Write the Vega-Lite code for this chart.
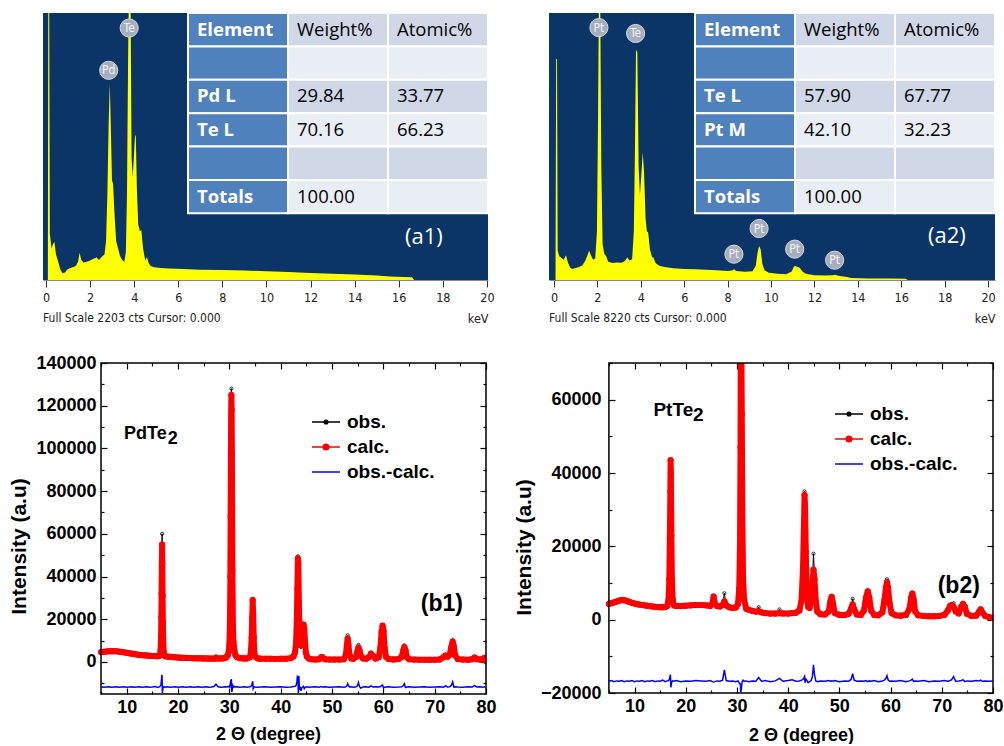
{
  "$schema": "https://vega.github.io/schema/vega-lite/v6.json",
  "autosize": {"type": "pad"},
  "padding": {"left": 8, "top": 12, "right": 0, "bottom": 0},
  "background": "white",
  "bounds": "full",
  "spacing": 29,
  "config": {
    "axis": {"grid": false, "labelOverlap": false},
    "view": {"stroke": null}
  },
  "datasets": {
    "a1": [
      {"keV":0,"cts":0},{"keV":0.08,"cts":0},{"keV":0.1,"cts":2400},{"keV":0.14,"cts":2400},{"keV":0.17,"cts":380},{"keV":0.25,"cts":260},{"keV":0.32,"cts":300},{"keV":0.38,"cts":313},{"keV":0.45,"cts":210},{"keV":0.55,"cts":150},{"keV":0.65,"cts":85},{"keV":0.75,"cts":55},{"keV":0.85,"cts":60},{"keV":0.95,"cts":85},{"keV":1.05,"cts":95},{"keV":1.2,"cts":105},{"keV":1.35,"cts":115},{"keV":1.45,"cts":150},{"keV":1.52,"cts":225},{"keV":1.6,"cts":165},{"keV":1.7,"cts":145},{"keV":1.85,"cts":150},{"keV":2.0,"cts":160},{"keV":2.15,"cts":175},{"keV":2.3,"cts":185},{"keV":2.4,"cts":165},{"keV":2.55,"cts":195},{"keV":2.65,"cts":210},{"keV":2.72,"cts":320},{"keV":2.78,"cts":700},{"keV":2.84,"cts":1300},{"keV":2.89,"cts":1620},{"keV":2.94,"cts":1250},{"keV":2.99,"cts":820},{"keV":3.04,"cts":795},{"keV":3.1,"cts":560},{"keV":3.18,"cts":320},{"keV":3.27,"cts":258},{"keV":3.35,"cts":200},{"keV":3.45,"cts":165},{"keV":3.55,"cts":150},{"keV":3.62,"cts":230},{"keV":3.67,"cts":700},{"keV":3.72,"cts":1800},{"keV":3.76,"cts":2400},{"keV":3.83,"cts":2400},{"keV":3.88,"cts":1000},{"keV":3.93,"cts":850},{"keV":3.98,"cts":1000},{"keV":4.03,"cts":1180},{"keV":4.07,"cts":1200},{"keV":4.12,"cts":750},{"keV":4.18,"cts":460},{"keV":4.26,"cts":400},{"keV":4.32,"cts":415},{"keV":4.4,"cts":260},{"keV":4.5,"cts":160},{"keV":4.58,"cts":190},{"keV":4.65,"cts":140},{"keV":4.75,"cts":115},{"keV":4.9,"cts":105},{"keV":5.2,"cts":100},{"keV":5.6,"cts":95},{"keV":6.2,"cts":90},{"keV":7,"cts":85},{"keV":8,"cts":82},{"keV":9,"cts":78},{"keV":10,"cts":72},{"keV":11,"cts":65},{"keV":12,"cts":58},{"keV":13,"cts":52},{"keV":14,"cts":46},{"keV":15,"cts":38},{"keV":15.6,"cts":28},{"keV":16.2,"cts":25},{"keV":16.6,"cts":22},{"keV":16.7,"cts":0},{"keV":20.05,"cts":0}
    ],
    "a2": [
      {"keV":0,"cts":0},{"keV":0.07,"cts":0},{"keV":0.1,"cts":6800},{"keV":0.14,"cts":6800},{"keV":0.17,"cts":900},{"keV":0.25,"cts":720},{"keV":0.35,"cts":680},{"keV":0.45,"cts":620},{"keV":0.55,"cts":760},{"keV":0.65,"cts":520},{"keV":0.75,"cts":380},{"keV":0.85,"cts":340},{"keV":1.0,"cts":370},{"keV":1.15,"cts":400},{"keV":1.3,"cts":450},{"keV":1.45,"cts":600},{"keV":1.55,"cts":780},{"keV":1.62,"cts":900},{"keV":1.7,"cts":760},{"keV":1.8,"cts":620},{"keV":1.9,"cts":660},{"keV":1.98,"cts":1500},{"keV":2.03,"cts":5000},{"keV":2.07,"cts":8600},{"keV":2.13,"cts":8600},{"keV":2.18,"cts":3500},{"keV":2.24,"cts":1100},{"keV":2.32,"cts":800},{"keV":2.4,"cts":740},{"keV":2.5,"cts":560},{"keV":2.7,"cts":520},{"keV":2.9,"cts":540},{"keV":3.1,"cts":530},{"keV":3.25,"cts":580},{"keV":3.38,"cts":690},{"keV":3.48,"cts":600},{"keV":3.6,"cts":640},{"keV":3.68,"cts":1500},{"keV":3.73,"cts":4000},{"keV":3.78,"cts":7100},{"keV":3.84,"cts":7000},{"keV":3.9,"cts":3500},{"keV":3.96,"cts":2600},{"keV":4.03,"cts":3300},{"keV":4.09,"cts":3930},{"keV":4.15,"cts":3300},{"keV":4.22,"cts":1900},{"keV":4.28,"cts":1500},{"keV":4.34,"cts":1460},{"keV":4.42,"cts":950},{"keV":4.52,"cts":700},{"keV":4.58,"cts":690},{"keV":4.68,"cts":520},{"keV":4.85,"cts":440},{"keV":5.1,"cts":400},{"keV":5.5,"cts":360},{"keV":6.0,"cts":340},{"keV":6.5,"cts":330},{"keV":7.0,"cts":315},{"keV":7.5,"cts":300},{"keV":8.0,"cts":280},{"keV":8.2,"cts":290},{"keV":8.3,"cts":330},{"keV":8.4,"cts":280},{"keV":8.8,"cts":255},{"keV":9.15,"cts":270},{"keV":9.3,"cts":450},{"keV":9.38,"cts":850},{"keV":9.45,"cts":1050},{"keV":9.52,"cts":950},{"keV":9.6,"cts":500},{"keV":9.7,"cts":300},{"keV":9.9,"cts":220},{"keV":10.3,"cts":190},{"keV":10.7,"cts":180},{"keV":10.95,"cts":260},{"keV":11.05,"cts":410},{"keV":11.12,"cts":430},{"keV":11.22,"cts":400},{"keV":11.32,"cts":380},{"keV":11.45,"cts":260},{"keV":11.6,"cts":190},{"keV":12.0,"cts":150},{"keV":12.5,"cts":135},{"keV":12.85,"cts":150},{"keV":12.95,"cts":165},{"keV":13.1,"cts":130},{"keV":13.5,"cts":90},{"keV":13.7,"cts":60},{"keV":14.5,"cts":50},{"keV":15.5,"cts":45},{"keV":16.2,"cts":40},{"keV":16.3,"cts":0},{"keV":20.3,"cts":0}
    ],
    "lab1": [
      {"keV":2.84,"cts":1730,"el":"Pd"},{"keV":3.77,"cts":2079,"el":"Te"}
    ],
    "lab2": [
      {"keV":2.07,"cts":7770,"el":"Pt"},{"keV":3.76,"cts":7590,"el":"Te"},{"keV":8.29,"cts":795,"el":"Pt"},{"keV":9.45,"cts":1585,"el":"Pt"},{"keV":11.09,"cts":950,"el":"Pt"},{"keV":12.93,"cts":610,"el":"Pt"}
    ],
    "t1": [
      {"row":1,"col":"c1","txt":"Element"},{"row":1,"col":"c2","txt":"Weight%"},{"row":1,"col":"c3","txt":"Atomic%"},
      {"row":2,"col":"c1","txt":""},{"row":2,"col":"c2","txt":""},{"row":2,"col":"c3","txt":""},
      {"row":3,"col":"c1","txt":"Pd L"},{"row":3,"col":"c2","txt":"29.84"},{"row":3,"col":"c3","txt":"33.77"},
      {"row":4,"col":"c1","txt":"Te L"},{"row":4,"col":"c2","txt":"70.16"},{"row":4,"col":"c3","txt":"66.23"},
      {"row":5,"col":"c1","txt":""},{"row":5,"col":"c2","txt":""},{"row":5,"col":"c3","txt":""},
      {"row":6,"col":"c1","txt":"Totals"},{"row":6,"col":"c2","txt":"100.00"},{"row":6,"col":"c3","txt":""}
    ],
    "t2": [
      {"row":1,"col":"c1","txt":"Element"},{"row":1,"col":"c2","txt":"Weight%"},{"row":1,"col":"c3","txt":"Atomic%"},
      {"row":2,"col":"c1","txt":""},{"row":2,"col":"c2","txt":""},{"row":2,"col":"c3","txt":""},
      {"row":3,"col":"c1","txt":"Te L"},{"row":3,"col":"c2","txt":"57.90"},{"row":3,"col":"c3","txt":"67.77"},
      {"row":4,"col":"c1","txt":"Pt M"},{"row":4,"col":"c2","txt":"42.10"},{"row":4,"col":"c3","txt":"32.23"},
      {"row":5,"col":"c1","txt":""},{"row":5,"col":"c2","txt":""},{"row":5,"col":"c3","txt":""},
      {"row":6,"col":"c1","txt":"Totals"},{"row":6,"col":"c2","txt":"100.00"},{"row":6,"col":"c3","txt":""}
    ],
    "b1": [
      {"t":5,"o":4700,"c":4600,"d":-11600},{"t":5.5,"o":4800,"c":4750,"d":-11800},{"t":6,"o":4900,"c":4900,"d":-11700},{"t":6.5,"o":5000,"c":5000,"d":-11600},{"t":7,"o":5000,"c":5050,"d":-11800},{"t":7.5,"o":5100,"c":5050,"d":-11700},{"t":8,"o":5000,"c":5000,"d":-11600},{"t":8.5,"o":4850,"c":4850,"d":-11800},{"t":9,"o":4700,"c":4700,"d":-11700},{"t":9.5,"o":4500,"c":4500,"d":-11600},{"t":10,"o":4300,"c":4300,"d":-11800},{"t":10.5,"o":4100,"c":4100,"d":-11700},{"t":11,"o":3900,"c":3900,"d":-11600},{"t":11.5,"o":3700,"c":3700,"d":-11800},{"t":12,"o":3500,"c":3500,"d":-11700},{"t":12.5,"o":3350,"c":3350,"d":-11600},{"t":13,"o":3200,"c":3200,"d":-11800},{"t":13.5,"o":3100,"c":3100,"d":-11700},{"t":14,"o":3000,"c":3000,"d":-11600},{"t":14.5,"o":2900,"c":2900,"d":-11800},{"t":15,"o":2800,"c":2800,"d":-11700},{"t":15.5,"o":2750,"c":2750,"d":-11500},{"t":16,"o":2700,"c":2700,"d":-11800},{"t":16.3,"o":2800,"c":2800,"d":-11700},{"t":16.5,"o":3300,"c":3300,"d":-11400},{"t":16.6,"o":5500,"c":5200,"d":-11000},{"t":16.7,"o":13000,"c":12000,"d":-10500},{"t":16.75,"o":22000,"c":21000,"d":-9000},{"t":16.8,"o":33000,"c":32000,"d":-8000},{"t":16.85,"o":48000,"c":45000,"d":-6000},{"t":16.9,"o":60000,"c":55000,"d":-7000},{"t":16.95,"o":44000,"c":46000,"d":-14500},{"t":17.0,"o":29000,"c":31000,"d":-13500},{"t":17.05,"o":18000,"c":19000,"d":-12500},{"t":17.1,"o":11000,"c":11000,"d":-11800},{"t":17.2,"o":5200,"c":5000,"d":-11600},{"t":17.3,"o":3500,"c":3500,"d":-11800},{"t":17.5,"o":2700,"c":2700,"d":-11700},{"t":18,"o":2500,"c":2500,"d":-11600},{"t":18.5,"o":2400,"c":2400,"d":-11800},{"t":19,"o":2300,"c":2300,"d":-11700},{"t":19.5,"o":2200,"c":2200,"d":-11600},{"t":20,"o":2100,"c":2100,"d":-11800},{"t":20.5,"o":2000,"c":2000,"d":-11700},{"t":21,"o":1950,"c":1950,"d":-11600},{"t":21.5,"o":1900,"c":1900,"d":-11800},{"t":22,"o":1850,"c":1850,"d":-11700},{"t":22.5,"o":1800,"c":1800,"d":-11600},{"t":23,"o":1750,"c":1750,"d":-11800},{"t":23.5,"o":1750,"c":1750,"d":-11700},{"t":24,"o":1700,"c":1700,"d":-11600},{"t":24.5,"o":1700,"c":1700,"d":-11800},{"t":25,"o":1650,"c":1650,"d":-11700},{"t":25.5,"o":1650,"c":1650,"d":-11600},{"t":26,"o":1600,"c":1600,"d":-11800},{"t":26.5,"o":1600,"c":1600,"d":-11700},{"t":27,"o":1700,"c":1600,"d":-11500},{"t":27.4,"o":2700,"c":1700,"d":-10400},{"t":27.8,"o":1700,"c":1650,"d":-11600},{"t":28.3,"o":1650,"c":1650,"d":-11800},{"t":28.8,"o":1700,"c":1700,"d":-11700},{"t":29.2,"o":1900,"c":1900,"d":-11600},{"t":29.5,"o":2500,"c":2500,"d":-11700},{"t":29.7,"o":3300,"c":3200,"d":-11500},{"t":29.9,"o":5000,"c":5000,"d":-11700},{"t":30.0,"o":8000,"c":8000,"d":-11400},{"t":30.1,"o":15000,"c":15500,"d":-12000},{"t":30.2,"o":41000,"c":40000,"d":-10000},{"t":30.25,"o":70000,"c":68000,"d":-9500},{"t":30.3,"o":98000,"c":95000,"d":-8500},{"t":30.35,"o":118000,"c":115000,"d":-9000},{"t":30.4,"o":128000,"c":125000,"d":-8000},{"t":30.45,"o":116000,"c":118000,"d":-13500},{"t":30.5,"o":96000,"c":98000,"d":-14000},{"t":30.55,"o":70000,"c":72000,"d":-13000},{"t":30.6,"o":42000,"c":43000,"d":-12500},{"t":30.7,"o":17000,"c":17000,"d":-11000},{"t":30.8,"o":9500,"c":9500,"d":-11500},{"t":30.9,"o":7000,"c":7000,"d":-11800},{"t":31.0,"o":5200,"c":5000,"d":-11500},{"t":31.2,"o":3200,"c":3100,"d":-11700},{"t":31.5,"o":2200,"c":2200,"d":-11600},{"t":32,"o":1800,"c":1800,"d":-11800},{"t":32.5,"o":1700,"c":1700,"d":-11700},{"t":33,"o":1650,"c":1650,"d":-11600},{"t":33.5,"o":1700,"c":1700,"d":-11800},{"t":34.0,"o":2300,"c":2200,"d":-11600},{"t":34.2,"o":5000,"c":4800,"d":-11400},{"t":34.35,"o":12000,"c":11500,"d":-11000},{"t":34.45,"o":21000,"c":20500,"d":-10000},{"t":34.55,"o":29500,"c":29000,"d":-9000},{"t":34.65,"o":21000,"c":22000,"d":-12500},{"t":34.75,"o":11000,"c":11500,"d":-12000},{"t":34.85,"o":5000,"c":5000,"d":-11600},{"t":35.0,"o":2600,"c":2600,"d":-11700},{"t":35.5,"o":1700,"c":1700,"d":-11800},{"t":36,"o":1550,"c":1550,"d":-11700},{"t":37,"o":1500,"c":1500,"d":-11600},{"t":38,"o":1450,"c":1450,"d":-11800},{"t":39,"o":1400,"c":1400,"d":-11700},{"t":40,"o":1450,"c":1450,"d":-11600},{"t":41,"o":1500,"c":1500,"d":-11800},{"t":42,"o":1800,"c":1800,"d":-11700},{"t":42.5,"o":2600,"c":2600,"d":-11500},{"t":42.8,"o":4500,"c":4500,"d":-11400},{"t":43.0,"o":9000,"c":9000,"d":-11000},{"t":43.15,"o":20000,"c":20000,"d":-9500},{"t":43.25,"o":35000,"c":34000,"d":-7000},{"t":43.35,"o":49500,"c":48500,"d":-7500},{"t":43.45,"o":44000,"c":46000,"d":-14500},{"t":43.55,"o":30000,"c":28000,"d":-6500},{"t":43.65,"o":15000,"c":16000,"d":-13000},{"t":43.8,"o":8000,"c":8000,"d":-11500},{"t":43.95,"o":7000,"c":8500,"d":-13500},{"t":44.15,"o":12000,"c":12500,"d":-12000},{"t":44.3,"o":16500,"c":16500,"d":-11700},{"t":44.45,"o":17500,"c":17500,"d":-11400},{"t":44.6,"o":15000,"c":15500,"d":-12500},{"t":44.75,"o":9000,"c":9500,"d":-12000},{"t":44.9,"o":4500,"c":4500,"d":-11700},{"t":45.1,"o":2600,"c":2600,"d":-11600},{"t":45.5,"o":1600,"c":1600,"d":-11800},{"t":46,"o":1300,"c":1300,"d":-11700},{"t":46.8,"o":1200,"c":1200,"d":-11600},{"t":47.5,"o":1300,"c":1300,"d":-11800},{"t":47.9,"o":2400,"c":2200,"d":-11500},{"t":48.1,"o":2300,"c":2300,"d":-11700},{"t":48.6,"o":1300,"c":1300,"d":-11600},{"t":49.5,"o":1150,"c":1150,"d":-11800},{"t":50.5,"o":1100,"c":1100,"d":-11700},{"t":51.5,"o":1100,"c":1100,"d":-11600},{"t":52.3,"o":1300,"c":1300,"d":-11800},{"t":52.7,"o":3500,"c":3400,"d":-11600},{"t":52.9,"o":8500,"c":8000,"d":-11200},{"t":53.05,"o":12500,"c":11000,"d":-10200},{"t":53.2,"o":8500,"c":8000,"d":-11000},{"t":53.4,"o":3500,"c":3500,"d":-11700},{"t":53.7,"o":1700,"c":1700,"d":-11600},{"t":54.2,"o":1500,"c":1500,"d":-11800},{"t":54.7,"o":2600,"c":2500,"d":-11600},{"t":54.95,"o":5500,"c":5000,"d":-11200},{"t":55.15,"o":8000,"c":6700,"d":-9600},{"t":55.35,"o":6000,"c":5500,"d":-11500},{"t":55.6,"o":2800,"c":2800,"d":-12300},{"t":56.0,"o":1700,"c":1700,"d":-11700},{"t":56.6,"o":1500,"c":1500,"d":-11600},{"t":57.2,"o":2200,"c":2200,"d":-11800},{"t":57.6,"o":4000,"c":3900,"d":-11200},{"t":58.0,"o":2800,"c":2800,"d":-11700},{"t":58.5,"o":1600,"c":1600,"d":-11600},{"t":59.1,"o":2200,"c":2200,"d":-11700},{"t":59.45,"o":7000,"c":7000,"d":-11500},{"t":59.65,"o":14000,"c":14000,"d":-11000},{"t":59.85,"o":17200,"c":17000,"d":-10800},{"t":60.05,"o":14000,"c":14500,"d":-12200},{"t":60.25,"o":6500,"c":6500,"d":-11800},{"t":60.5,"o":2500,"c":2500,"d":-11700},{"t":61,"o":1400,"c":1400,"d":-11600},{"t":62,"o":1200,"c":1200,"d":-11800},{"t":63,"o":1400,"c":1400,"d":-11700},{"t":63.6,"o":2600,"c":2500,"d":-11600},{"t":63.9,"o":5800,"c":5500,"d":-11000},{"t":64.1,"o":7800,"c":7000,"d":-10200},{"t":64.3,"o":5500,"c":5500,"d":-12000},{"t":64.6,"o":2200,"c":2200,"d":-11700},{"t":65,"o":1300,"c":1300,"d":-11600},{"t":66,"o":1100,"c":1100,"d":-11800},{"t":67,"o":1050,"c":1050,"d":-11700},{"t":68,"o":1000,"c":1000,"d":-11600},{"t":69,"o":1000,"c":1000,"d":-11800},{"t":70,"o":1050,"c":1050,"d":-11700},{"t":71,"o":1200,"c":1200,"d":-11600},{"t":71.7,"o":2200,"c":2200,"d":-11800},{"t":72.1,"o":3300,"c":3000,"d":-11200},{"t":72.5,"o":2500,"c":2500,"d":-11700},{"t":72.9,"o":3500,"c":3300,"d":-11600},{"t":73.25,"o":7500,"c":7000,"d":-11000},{"t":73.5,"o":10200,"c":9500,"d":-9300},{"t":73.75,"o":7000,"c":7200,"d":-11800},{"t":74.0,"o":3000,"c":3000,"d":-11600},{"t":74.5,"o":1400,"c":1400,"d":-11700},{"t":75.5,"o":1100,"c":1100,"d":-11800},{"t":76.5,"o":1050,"c":1050,"d":-11600},{"t":77.3,"o":1300,"c":1300,"d":-11700},{"t":77.8,"o":2400,"c":2100,"d":-11100},{"t":78.2,"o":1400,"c":1400,"d":-11700},{"t":78.8,"o":1100,"c":1100,"d":-11600},{"t":79.4,"o":1500,"c":1500,"d":-11800},{"t":79.7,"o":1900,"c":1900,"d":-11600},{"t":80,"o":300,"c":300,"d":-11700}
    ],
    "b2": [
      {"t":5,"o":4300,"c":4300,"d":-16800},{"t":5.5,"o":4500,"c":4500,"d":-16600},{"t":6,"o":4700,"c":4700,"d":-16900},{"t":6.5,"o":4950,"c":4950,"d":-16700},{"t":7,"o":5200,"c":5200,"d":-16800},{"t":7.5,"o":5350,"c":5350,"d":-16600},{"t":8,"o":5300,"c":5300,"d":-16900},{"t":8.5,"o":5100,"c":5100,"d":-16700},{"t":9,"o":4850,"c":4850,"d":-16800},{"t":9.5,"o":4600,"c":4600,"d":-16600},{"t":10,"o":4400,"c":4400,"d":-16900},{"t":10.5,"o":4250,"c":4250,"d":-16700},{"t":11,"o":4100,"c":4100,"d":-16800},{"t":11.5,"o":4000,"c":4000,"d":-16600},{"t":12,"o":3900,"c":3900,"d":-16900},{"t":12.5,"o":3800,"c":3800,"d":-16700},{"t":13,"o":3700,"c":3700,"d":-16800},{"t":13.5,"o":3600,"c":3600,"d":-16600},{"t":14,"o":3500,"c":3500,"d":-16900},{"t":14.5,"o":3450,"c":3450,"d":-16700},{"t":15,"o":3400,"c":3400,"d":-16800},{"t":15.5,"o":3400,"c":3400,"d":-16500},{"t":16,"o":3450,"c":3450,"d":-16900},{"t":16.4,"o":3700,"c":3700,"d":-16700},{"t":16.65,"o":5500,"c":5500,"d":-16600},{"t":16.8,"o":11000,"c":11000,"d":-16300},{"t":16.9,"o":22000,"c":22000,"d":-15800},{"t":17.0,"o":36000,"c":35000,"d":-15000},{"t":17.05,"o":43500,"c":43500,"d":-16200},{"t":17.1,"o":38000,"c":40000,"d":-18500},{"t":17.2,"o":22000,"c":23000,"d":-17500},{"t":17.3,"o":11000,"c":11000,"d":-16900},{"t":17.45,"o":5500,"c":5500,"d":-16700},{"t":17.7,"o":3900,"c":3900,"d":-16800},{"t":18.2,"o":3700,"c":3700,"d":-16600},{"t":19,"o":3700,"c":3700,"d":-16900},{"t":20,"o":3800,"c":3800,"d":-16700},{"t":21,"o":3900,"c":3900,"d":-16800},{"t":22,"o":4000,"c":4000,"d":-16600},{"t":23,"o":4100,"c":4000,"d":-16700},{"t":24,"o":3900,"c":3900,"d":-16800},{"t":24.8,"o":3750,"c":3750,"d":-16600},{"t":25.2,"o":4300,"c":4400,"d":-16900},{"t":25.45,"o":6200,"c":6300,"d":-17000},{"t":25.7,"o":4300,"c":4400,"d":-16900},{"t":26.1,"o":3700,"c":3700,"d":-16700},{"t":26.7,"o":3600,"c":3600,"d":-16800},{"t":27.2,"o":4200,"c":4000,"d":-16500},{"t":27.55,"o":7200,"c":5000,"d":-13700},{"t":27.9,"o":4000,"c":3900,"d":-16600},{"t":28.5,"o":3400,"c":3400,"d":-16800},{"t":29.2,"o":3200,"c":3200,"d":-16700},{"t":29.8,"o":3300,"c":3300,"d":-16900},{"t":30.2,"o":4300,"c":4300,"d":-16700},{"t":30.45,"o":8000,"c":8500,"d":-17200},{"t":30.6,"o":20000,"c":21000,"d":-17500},{"t":30.7,"o":45000,"c":47000,"d":-18000},{"t":30.75,"o":72000,"c":74000,"d":-19800},{"t":30.85,"o":78000,"c":80000,"d":-19000},{"t":30.95,"o":55000,"c":56000,"d":-17600},{"t":31.05,"o":30000,"c":30000,"d":-16800},{"t":31.2,"o":11000,"c":11000,"d":-16500},{"t":31.4,"o":5500,"c":5500,"d":-16800},{"t":31.8,"o":3000,"c":3000,"d":-16700},{"t":32.3,"o":2700,"c":2700,"d":-16900},{"t":33,"o":2400,"c":2400,"d":-16700},{"t":33.7,"o":2200,"c":2200,"d":-16800},{"t":34.25,"o":3400,"c":2300,"d":-15800},{"t":34.8,"o":2000,"c":2000,"d":-16800},{"t":35.5,"o":1800,"c":1800,"d":-16600},{"t":36.5,"o":1650,"c":1650,"d":-16900},{"t":37.5,"o":1650,"c":1650,"d":-16700},{"t":38.3,"o":2800,"c":1800,"d":-16000},{"t":39,"o":1700,"c":1700,"d":-16800},{"t":40,"o":1650,"c":1650,"d":-16600},{"t":40.8,"o":2000,"c":1800,"d":-16400},{"t":41.5,"o":1900,"c":1900,"d":-16800},{"t":42.2,"o":2500,"c":2500,"d":-16700},{"t":42.6,"o":5000,"c":5000,"d":-16500},{"t":42.9,"o":14000,"c":14000,"d":-16300},{"t":43.1,"o":28000,"c":27000,"d":-15800},{"t":43.2,"o":35000,"c":34000,"d":-15500},{"t":43.3,"o":30000,"c":31000,"d":-17200},{"t":43.45,"o":18000,"c":18500,"d":-16200},{"t":43.65,"o":6500,"c":6500,"d":-16500},{"t":43.9,"o":3200,"c":3500,"d":-17200},{"t":44.2,"o":3000,"c":3200,"d":-16900},{"t":44.5,"o":5500,"c":5500,"d":-16600},{"t":44.75,"o":11000,"c":10000,"d":-15400},{"t":44.95,"o":18000,"c":13600,"d":-12300},{"t":45.15,"o":12000,"c":11000,"d":-15000},{"t":45.4,"o":5000,"c":5000,"d":-16700},{"t":45.7,"o":2200,"c":2200,"d":-16900},{"t":46.3,"o":1500,"c":1500,"d":-16700},{"t":47.2,"o":1400,"c":1400,"d":-16800},{"t":47.9,"o":2200,"c":2200,"d":-16600},{"t":48.25,"o":5000,"c":5000,"d":-16800},{"t":48.5,"o":6200,"c":6200,"d":-16700},{"t":48.75,"o":4500,"c":4500,"d":-16800},{"t":49.1,"o":1800,"c":1800,"d":-16600},{"t":50,"o":1300,"c":1300,"d":-16900},{"t":51,"o":1250,"c":1250,"d":-16700},{"t":51.8,"o":1600,"c":1600,"d":-16800},{"t":52.3,"o":3500,"c":3000,"d":-16300},{"t":52.6,"o":5700,"c":4100,"d":-14700},{"t":52.9,"o":3000,"c":2800,"d":-16500},{"t":53.4,"o":1400,"c":1400,"d":-16800},{"t":54.2,"o":1300,"c":1300,"d":-16700},{"t":54.8,"o":2500,"c":2500,"d":-16800},{"t":55.2,"o":6000,"c":6000,"d":-16600},{"t":55.55,"o":7700,"c":7700,"d":-16900},{"t":55.85,"o":6000,"c":6000,"d":-16700},{"t":56.2,"o":2500,"c":2500,"d":-16800},{"t":56.8,"o":1300,"c":1300,"d":-16600},{"t":57.6,"o":1200,"c":1200,"d":-16900},{"t":58.4,"o":2000,"c":2000,"d":-16700},{"t":58.8,"o":5500,"c":5300,"d":-16500},{"t":59.1,"o":9200,"c":8800,"d":-16000},{"t":59.3,"o":11000,"c":10200,"d":-15300},{"t":59.5,"o":9000,"c":8800,"d":-16400},{"t":59.8,"o":4500,"c":4500,"d":-16800},{"t":60.2,"o":1800,"c":1800,"d":-16700},{"t":61,"o":1200,"c":1200,"d":-16800},{"t":62,"o":1100,"c":1100,"d":-16600},{"t":63,"o":1300,"c":1300,"d":-16900},{"t":63.7,"o":3000,"c":3000,"d":-16700},{"t":64,"o":6000,"c":6000,"d":-16500},{"t":64.25,"o":7300,"c":7100,"d":-16200},{"t":64.5,"o":5500,"c":5600,"d":-16800},{"t":64.8,"o":2200,"c":2200,"d":-16700},{"t":65.4,"o":1200,"c":1200,"d":-16800},{"t":66.5,"o":1000,"c":1000,"d":-16600},{"t":67.5,"o":950,"c":950,"d":-16900},{"t":68.5,"o":950,"c":950,"d":-16700},{"t":69.5,"o":1000,"c":1000,"d":-16800},{"t":70.5,"o":1300,"c":1300,"d":-16600},{"t":71.2,"o":2500,"c":2500,"d":-16800},{"t":71.6,"o":3700,"c":3700,"d":-16600},{"t":71.9,"o":4000,"c":4000,"d":-16400},{"t":72.3,"o":4500,"c":3500,"d":-15500},{"t":72.7,"o":2300,"c":2300,"d":-16800},{"t":73.3,"o":1700,"c":1700,"d":-16700},{"t":73.8,"o":3500,"c":3500,"d":-16600},{"t":74.15,"o":4300,"c":4300,"d":-16400},{"t":74.5,"o":3500,"c":3500,"d":-16900},{"t":74.9,"o":1600,"c":1600,"d":-16700},{"t":75.8,"o":1000,"c":1000,"d":-16800},{"t":76.7,"o":1100,"c":1100,"d":-16600},{"t":77.3,"o":2200,"c":2200,"d":-16700},{"t":77.6,"o":2800,"c":2800,"d":-16500},{"t":77.9,"o":2000,"c":2000,"d":-16800},{"t":78.5,"o":1000,"c":1000,"d":-16700},{"t":79.2,"o":700,"c":700,"d":-16800},{"t":80,"o":500,"c":500,"d":-16700}
    ]
  },
  "vconcat": [
    {
      "hconcat": [
        {
          "width": 445, "height": 267,
          "view": {"fill": "#0b3467", "stroke": null},
          "title": {"text": "Full Scale 2203 cts Cursor: 0.000", "orient": "bottom", "anchor": "start", "frame": "group", "font": "'Liberation Sans Narrow', 'DejaVu Sans Condensed', 'Liberation Sans'", "fontSize": 12, "fontWeight": "normal", "color": "#222222", "offset": -12},
          "layer": [
            {
              "layer": [
                {
                  "data": {"name": "a1"},
                  "mark": {"type": "area", "color": "#ffff00", "clip": true},
                  "encoding": {
                    "x": {"field": "keV", "type": "quantitative", "title": "keV", "scale": {"domain": [-0.14, 20.05], "nice": false, "zero": false},
                      "axis": {"values": [0,0.5,1,1.5,2,2.5,3,3.5,4,4.5,5,5.5,6,6.5,7,7.5,8,8.5,9,9.5,10,10.5,11,11.5,12,12.5,13,13.5,14,14.5,15,15.5,16,16.5,17,17.5,18,18.5,19,19.5,20],
                        "labelExpr": "datum.value % 2 === 0 ? format(datum.value, 'd') : ''", "labelOverlap": false,
                        "tickSize": {"condition": {"test": "datum.value % 2 === 0", "value": 7}, "value": 4},
                        "tickColor": "#333333", "domain": true, "domainColor": "#888888", "labelFont": "'Liberation Sans Narrow', 'DejaVu Sans Condensed', 'Liberation Sans'", "labelFontSize": 12.5, "labelColor": "#222222", "labelPadding": 4, "labelFlush": false,
                        "titleAnchor": "end", "titleAlign": "right", "titleFont": "'Liberation Sans Narrow', 'DejaVu Sans Condensed', 'Liberation Sans'", "titleFontSize": 12.5, "titleFontWeight": "normal", "titleColor": "#222222", "titlePadding": 9}},
                    "y": {"field": "cts", "type": "quantitative", "scale": {"domain": [0, 2203], "nice": false}, "axis": null}
                  }
                },
                {
                  "data": {"name": "lab1"},
                  "mark": {"type": "circle", "size": 330, "color": "#a6aebd", "opacity": 1, "stroke": "#d6dae2", "strokeWidth": 1},
                  "encoding": {"x": {"field": "keV", "type": "quantitative", "title": "keV"}, "y": {"field": "cts", "type": "quantitative", "axis": null}}
                },
                {
                  "data": {"name": "lab1"},
                  "mark": {"type": "text", "font": "'Liberation Sans Narrow', 'DejaVu Sans Condensed', 'Liberation Sans'", "fontSize": 12, "color": "#f2f2f2", "baseline": "middle", "align": "center"},
                  "encoding": {"x": {"field": "keV", "type": "quantitative", "title": "keV"}, "y": {"field": "cts", "type": "quantitative", "axis": null}, "text": {"field": "el"}}
                },
                {
                  "data": {"values": [{}]},
                  "mark": {"type": "text", "text": "(a1)", "font": "Open Sans", "fontSize": 22, "color": "#ffffff", "align": "center", "baseline": "middle"},
                  "encoding": {"x": {"datum": 17.14, "type": "quantitative", "title": "keV"}, "y": {"datum": 355, "type": "quantitative", "axis": null}}
                }
              ]
            },
            {
              "data": {"name": "t1"},
              "encoding": {
                "x": {"field": "col", "type": "ordinal", "scale": {"type": "band", "paddingInner": 0, "paddingOuter": 0.725, "align": 1}, "axis": null},
                "y": {"field": "row", "type": "ordinal", "scale": {"type": "band", "paddingInner": 0, "paddingOuter": 1.26, "align": 0}, "axis": null}
              },
              "layer": [
                {"mark": {"type": "rect", "stroke": "#ffffff", "strokeWidth": 2},
                 "encoding": {"fill": {"condition": [{"test": "datum.col === 'c1'", "value": "#4f81bd"}, {"test": "datum.row % 2 === 1", "value": "#d0d8e8"}], "value": "#e9edf4"}}},
                {"transform": [{"filter": "datum.col === 'c1'"}],
                 "mark": {"type": "text", "align": "left", "dx": 9, "font": "Open Sans", "fontSize": 18.5, "fontWeight": "bold", "color": "#ffffff"},
                 "encoding": {"x": {"field": "col", "type": "ordinal", "bandPosition": 0}, "text": {"field": "txt"}}},
                {"transform": [{"filter": "datum.col !== 'c1'"}],
                 "mark": {"type": "text", "align": "left", "dx": 9, "font": "Open Sans", "fontSize": 18.5, "color": "#000000"},
                 "encoding": {"x": {"field": "col", "type": "ordinal", "bandPosition": 0}, "text": {"field": "txt"}}}
              ]
            }
          ],
          "resolve": {"scale": {"x": "independent", "y": "independent"}}
        },
        {
          "width": 446, "height": 267,
          "view": {"fill": "#0b3467", "stroke": null},
          "title": {"text": "Full Scale 8220 cts Cursor: 0.000", "orient": "bottom", "anchor": "start", "frame": "group", "font": "'Liberation Sans Narrow', 'DejaVu Sans Condensed', 'Liberation Sans'", "fontSize": 12, "fontWeight": "normal", "color": "#222222", "offset": -12},
          "layer": [
            {
              "layer": [
                {
                  "data": {"name": "a2"},
                  "mark": {"type": "area", "color": "#ffff00", "clip": true},
                  "encoding": {
                    "x": {"field": "keV", "type": "quantitative", "title": "keV", "scale": {"domain": [-0.23, 20.32], "nice": false, "zero": false},
                      "axis": {"values": [0,0.5,1,1.5,2,2.5,3,3.5,4,4.5,5,5.5,6,6.5,7,7.5,8,8.5,9,9.5,10,10.5,11,11.5,12,12.5,13,13.5,14,14.5,15,15.5,16,16.5,17,17.5,18,18.5,19,19.5,20],
                        "labelExpr": "datum.value % 2 === 0 ? format(datum.value, 'd') : ''", "labelOverlap": false,
                        "tickSize": {"condition": {"test": "datum.value % 2 === 0", "value": 7}, "value": 4},
                        "tickColor": "#333333", "domain": true, "domainColor": "#888888", "labelFont": "'Liberation Sans Narrow', 'DejaVu Sans Condensed', 'Liberation Sans'", "labelFontSize": 12.5, "labelColor": "#222222", "labelPadding": 4, "labelFlush": false,
                        "titleAnchor": "end", "titleAlign": "right", "titleFont": "'Liberation Sans Narrow', 'DejaVu Sans Condensed', 'Liberation Sans'", "titleFontSize": 12.5, "titleFontWeight": "normal", "titleColor": "#222222", "titlePadding": 9}},
                    "y": {"field": "cts", "type": "quantitative", "scale": {"domain": [0, 8220], "nice": false}, "axis": null}
                  }
                },
                {
                  "data": {"name": "lab2"},
                  "mark": {"type": "circle", "size": 330, "color": "#a6aebd", "opacity": 1, "stroke": "#d6dae2", "strokeWidth": 1},
                  "encoding": {"x": {"field": "keV", "type": "quantitative", "title": "keV"}, "y": {"field": "cts", "type": "quantitative", "axis": null}}
                },
                {
                  "data": {"name": "lab2"},
                  "mark": {"type": "text", "font": "'Liberation Sans Narrow', 'DejaVu Sans Condensed', 'Liberation Sans'", "fontSize": 12, "color": "#f2f2f2", "baseline": "middle", "align": "center"},
                  "encoding": {"x": {"field": "keV", "type": "quantitative", "title": "keV"}, "y": {"field": "cts", "type": "quantitative", "axis": null}, "text": {"field": "el"}}
                },
                {
                  "data": {"values": [{}]},
                  "mark": {"type": "text", "text": "(a2)", "font": "Open Sans", "fontSize": 22, "color": "#ffffff", "align": "center", "baseline": "middle"},
                  "encoding": {"x": {"datum": 18.1, "type": "quantitative", "title": "keV"}, "y": {"datum": 1360, "type": "quantitative", "axis": null}}
                }
              ]
            },
            {
              "data": {"name": "t2"},
              "encoding": {
                "x": {"field": "col", "type": "ordinal", "scale": {"type": "band", "paddingInner": 0, "paddingOuter": 0.73, "align": 1}, "axis": null},
                "y": {"field": "row", "type": "ordinal", "scale": {"type": "band", "paddingInner": 0, "paddingOuter": 1.26, "align": 0}, "axis": null}
              },
              "layer": [
                {"mark": {"type": "rect", "stroke": "#ffffff", "strokeWidth": 2},
                 "encoding": {"fill": {"condition": [{"test": "datum.col === 'c1'", "value": "#4f81bd"}, {"test": "datum.row % 2 === 1", "value": "#d0d8e8"}], "value": "#e9edf4"}}},
                {"transform": [{"filter": "datum.col === 'c1'"}],
                 "mark": {"type": "text", "align": "left", "dx": 9, "font": "Open Sans", "fontSize": 18.5, "fontWeight": "bold", "color": "#ffffff"},
                 "encoding": {"x": {"field": "col", "type": "ordinal", "bandPosition": 0}, "text": {"field": "txt"}}},
                {"transform": [{"filter": "datum.col !== 'c1'"}],
                 "mark": {"type": "text", "align": "left", "dx": 9, "font": "Open Sans", "fontSize": 18.5, "color": "#000000"},
                 "encoding": {"x": {"field": "col", "type": "ordinal", "bandPosition": 0}, "text": {"field": "txt"}}}
              ]
            }
          ],
          "resolve": {"scale": {"x": "independent", "y": "independent"}}
        }
      ],
      "spacing": 54
    },
    {
      "hconcat": [
        {
          "width": 443, "height": 331,
          "data": {"name": "b1"},
          "layer": [
            {
              "mark": {"type": "line", "strokeWidth": 1, "clip": true},
              "encoding": {
                "x": {"field": "t", "type": "quantitative", "scale": {"domain": [-6.3, 80], "nice": false, "zero": false},
                  "axis": {"orient": "bottom", "values": [5,15,25,35,45,55,65,75], "labels": false, "domain": false, "title": null, "tickSize": -3, "tickColor": "#000000", "tickWidth": 1.2}},
                "y": {"field": "o", "type": "quantitative", "scale": {"domain": [-15000, 140000], "nice": false, "zero": false},
                  "axis": {"orient": "left", "offset": -58, "values": [-10000,10000,30000,50000,70000,90000,110000,130000], "labels": false, "domain": false, "title": null, "tickSize": -3, "tickColor": "#000000", "tickWidth": 1.2}},
                "color": {"datum": "obs.", "scale": {"domain": ["obs.", "calc.", "obs.-calc."], "range": ["#000000", "#ff0000", "#0000ff"]},
                  "legend": {"orient": "none", "legendX": 268, "legendY": 44, "title": null, "padding": 0, "symbolType": "M-1,0H1", "symbolSize": 784, "symbolStrokeWidth": 1.5, "symbolOpacity": 1,
                    "labelFont": "Liberation Sans", "labelFontSize": 19, "labelFontWeight": "bold", "labelColor": "#000000", "labelOffset": 6, "rowPadding": 0,
                    "encode": {"symbols": {"update": {
                      "shape": {"signal": "datum.value === 'obs.-calc.' ? 'M-1,0H1' : (datum.value === 'obs.' ? 'M-1,0H1M0.13,0A0.13,0.13,0,1,1,-0.13,0A0.13,0.13,0,1,1,0.13,0' : 'M-1,0H1M0.2,0A0.2,0.2,0,1,1,-0.2,0A0.2,0.2,0,1,1,0.2,0')"},
                      "fill": {"signal": "datum.value === 'obs.' ? '#ffffff' : (datum.value === 'calc.' ? '#ff0000' : 'transparent')"},
                      "stroke": {"signal": "datum.value === 'obs.' ? '#444444' : (datum.value === 'calc.' ? '#ff0000' : '#0000ff')"}}}}}}
              }
            },
            {
              "layer": [
                {
                  "mark": {"type": "point", "filled": false, "size": 10, "strokeWidth": 0.8, "opacity": 1, "clip": true},
                  "encoding": {
                    "x": {"field": "t", "type": "quantitative", "title": "2 Θ (degree)",
                      "axis": {"orient": "bottom", "values": [10,20,30,40,50,60,70,80], "format": "d", "labelOverlap": false,
                        "tickSize": -6, "tickColor": "#000000", "tickWidth": 1.2, "domain": false,
                        "labelFont": "Liberation Sans", "labelFontSize": 18, "labelFontWeight": "bold", "labelColor": "#000000", "labelPadding": 10, "labelFlush": false,
                        "titleFont": "Liberation Sans", "titleFontSize": 18, "titleFontWeight": "bold", "titleColor": "#000000", "titlePadding": 9, "titleX": 225}},
                    "y": {"field": "o", "type": "quantitative", "title": "Intensity (a.u)",
                      "axis": {"orient": "left", "offset": -58, "values": [0,20000,40000,60000,80000,100000,120000,140000], "format": "d", "labelOverlap": false,
                        "tickSize": -6, "tickColor": "#000000", "tickWidth": 1.2, "domain": false,
                        "labelFont": "Liberation Sans", "labelFontSize": 18, "labelFontWeight": "bold", "labelColor": "#000000", "labelPadding": 11, "labelFlush": false,
                        "titleFont": "Liberation Sans", "titleFontSize": 21, "titleFontWeight": "bold", "titleColor": "#000000", "titlePadding": 6, "titleY": 183}},
                    "color": {"datum": "obs."}
                  }
                },
                {
                  "mark": {"type": "line", "strokeWidth": 6, "clip": true, "strokeJoin": "round"},
                  "encoding": {"x": {"field": "t", "type": "quantitative", "title": "2 Θ (degree)"}, "y": {"field": "c", "type": "quantitative", "title": "Intensity (a.u)"}, "color": {"datum": "calc."}}
                },
                {
                  "mark": {"type": "circle", "size": 38, "opacity": 1, "clip": true},
                  "encoding": {"x": {"field": "t", "type": "quantitative", "title": "2 Θ (degree)"}, "y": {"field": "c", "type": "quantitative", "title": "Intensity (a.u)"}, "color": {"datum": "calc."}}
                },
                {
                  "data": {"values": [{}]},
                  "mark": {"type": "rect", "fill": "transparent", "stroke": "#000000", "strokeWidth": 1.5},
                  "encoding": {"x": {"datum": 5, "type": "quantitative", "title": "2 Θ (degree)"}, "x2": {"datum": 80}, "y": {"datum": -15000, "type": "quantitative", "title": "Intensity (a.u)"}, "y2": {"datum": 140000}}
                },
                {
                  "data": {"values": [{}]},
                  "mark": {"type": "text", "text": "PdTe", "font": "Liberation Sans", "fontSize": 18, "fontWeight": "bold", "color": "#000000", "align": "left", "baseline": "middle"},
                  "encoding": {"x": {"datum": 9.48, "type": "quantitative", "title": "2 Θ (degree)"}, "y": {"datum": 106900, "type": "quantitative", "title": "Intensity (a.u)"}}
                },
                {
                  "data": {"values": [{}]},
                  "mark": {"type": "text", "text": "2", "font": "Liberation Sans", "fontSize": 18, "fontWeight": "bold", "color": "#000000", "align": "left", "baseline": "middle"},
                  "encoding": {"x": {"datum": 18.0, "type": "quantitative", "title": "2 Θ (degree)"}, "y": {"datum": 104200, "type": "quantitative", "title": "Intensity (a.u)"}}
                },
                {
                  "data": {"values": [{}]},
                  "mark": {"type": "text", "text": "(b1)", "font": "Liberation Sans", "fontSize": 23, "fontWeight": "bold", "color": "#000000", "align": "left", "baseline": "middle"},
                  "encoding": {"x": {"datum": 67.3, "type": "quantitative", "title": "2 Θ (degree)"}, "y": {"datum": 27300, "type": "quantitative", "title": "Intensity (a.u)"}}
                }
              ]
            },
            {
              "mark": {"type": "line", "strokeWidth": 1.5, "clip": true},
              "encoding": {
                "x": {"field": "t", "type": "quantitative", "axis": {"orient": "top", "values": [5,10,15,20,25,30,35,40,45,50,55,60,65,70,75,80], "labels": false, "domain": false, "title": null, "tickSize": {"condition": {"test": "datum.value % 10 === 0", "value": -6}, "value": -3}, "tickColor": "#000000", "tickWidth": 1.2, "minExtent": 0}},
                "y": {"field": "d", "type": "quantitative", "axis": {"orient": "right", "values": [-10000,0,10000,20000,30000,40000,50000,60000,70000,80000,90000,100000,110000,120000,130000,140000], "labels": false, "domain": false, "title": null, "tickSize": {"condition": {"test": "datum.value % 20000 === 0", "value": -6}, "value": -3}, "tickColor": "#000000", "tickWidth": 1.2, "minExtent": 0}},
                "color": {"datum": "obs.-calc."}
              }
            }
          ],
          "resolve": {"axis": {"x": "independent", "y": "independent"}}
        },
        {
          "width": 443, "height": 330,
          "data": {"name": "b2"},
          "layer": [
            {
              "mark": {"type": "line", "strokeWidth": 1, "clip": true},
              "encoding": {
                "x": {"field": "t", "type": "quantitative", "scale": {"domain": [-6.5, 80], "nice": false, "zero": false},
                  "axis": {"orient": "bottom", "values": [5,15,25,35,45,55,65,75], "labels": false, "domain": false, "title": null, "tickSize": -3, "tickColor": "#000000", "tickWidth": 1.2}},
                "y": {"field": "o", "type": "quantitative", "scale": {"domain": [-20000, 70000], "nice": false, "zero": false},
                  "axis": {"orient": "left", "offset": -59, "values": [-10000,10000,30000,50000,70000], "labels": false, "domain": false, "title": null, "tickSize": -3, "tickColor": "#000000", "tickWidth": 1.2}},
                "color": {"datum": "obs.", "scale": {"domain": ["obs.", "calc.", "obs.-calc."], "range": ["#000000", "#ff0000", "#0000ff"]},
                  "legend": {"orient": "none", "legendX": 284, "legendY": 36, "title": null, "padding": 0, "symbolType": "M-1,0H1", "symbolSize": 784, "symbolStrokeWidth": 1.5, "symbolOpacity": 1,
                    "labelFont": "Liberation Sans", "labelFontSize": 19, "labelFontWeight": "bold", "labelColor": "#000000", "labelOffset": 6, "rowPadding": 0,
                    "encode": {"symbols": {"update": {
                      "shape": {"signal": "datum.value === 'obs.-calc.' ? 'M-1,0H1' : (datum.value === 'obs.' ? 'M-1,0H1M0.13,0A0.13,0.13,0,1,1,-0.13,0A0.13,0.13,0,1,1,0.13,0' : 'M-1,0H1M0.2,0A0.2,0.2,0,1,1,-0.2,0A0.2,0.2,0,1,1,0.2,0')"},
                      "fill": {"signal": "datum.value === 'obs.' ? '#ffffff' : (datum.value === 'calc.' ? '#ff0000' : 'transparent')"},
                      "stroke": {"signal": "datum.value === 'obs.' ? '#444444' : (datum.value === 'calc.' ? '#ff0000' : '#0000ff')"}}}}}}
              }
            },
            {
              "layer": [
                {
                  "mark": {"type": "point", "filled": false, "size": 10, "strokeWidth": 0.8, "opacity": 1, "clip": true},
                  "encoding": {
                    "x": {"field": "t", "type": "quantitative", "title": "2 Θ (degree)",
                      "axis": {"orient": "bottom", "values": [10,20,30,40,50,60,70,80], "format": "d", "labelOverlap": false,
                        "tickSize": -6, "tickColor": "#000000", "tickWidth": 1.2, "domain": false,
                        "labelFont": "Liberation Sans", "labelFontSize": 18, "labelFontWeight": "bold", "labelColor": "#000000", "labelPadding": 10, "labelFlush": false,
                        "titleFont": "Liberation Sans", "titleFontSize": 18, "titleFontWeight": "bold", "titleColor": "#000000", "titlePadding": 11, "titleX": 251}},
                    "y": {"field": "o", "type": "quantitative", "title": "Intensity (a.u)",
                      "axis": {"orient": "left", "offset": -59, "values": [-20000,0,20000,40000,60000], "format": "d", "labelOverlap": false,
                        "tickSize": -6, "tickColor": "#000000", "tickWidth": 1.2, "domain": false,
                        "labelFont": "Liberation Sans", "labelFontSize": 18, "labelFontWeight": "bold", "labelColor": "#000000", "labelPadding": 14, "labelFlush": false,
                        "titleFont": "Liberation Sans", "titleFontSize": 21, "titleFontWeight": "bold", "titleColor": "#000000", "titlePadding": 6, "titleY": 184}},
                    "color": {"datum": "obs."}
                  }
                },
                {
                  "mark": {"type": "line", "strokeWidth": 6, "clip": true, "strokeJoin": "round"},
                  "encoding": {"x": {"field": "t", "type": "quantitative", "title": "2 Θ (degree)"}, "y": {"field": "c", "type": "quantitative", "title": "Intensity (a.u)"}, "color": {"datum": "calc."}}
                },
                {
                  "mark": {"type": "circle", "size": 38, "opacity": 1, "clip": true},
                  "encoding": {"x": {"field": "t", "type": "quantitative", "title": "2 Θ (degree)"}, "y": {"field": "c", "type": "quantitative", "title": "Intensity (a.u)"}, "color": {"datum": "calc."}}
                },
                {
                  "data": {"values": [{}]},
                  "mark": {"type": "rect", "fill": "transparent", "stroke": "#000000", "strokeWidth": 1.5},
                  "encoding": {"x": {"datum": 5, "type": "quantitative", "title": "2 Θ (degree)"}, "x2": {"datum": 80}, "y": {"datum": -20000, "type": "quantitative", "title": "Intensity (a.u)"}, "y2": {"datum": 70000}}
                },
                {
                  "data": {"values": [{}]},
                  "mark": {"type": "text", "text": "PtTe", "font": "Liberation Sans", "fontSize": 19, "fontWeight": "bold", "color": "#000000", "align": "left", "baseline": "middle"},
                  "encoding": {"x": {"datum": 13.7, "type": "quantitative", "title": "2 Θ (degree)"}, "y": {"datum": 57150, "type": "quantitative", "title": "Intensity (a.u)"}}
                },
                {
                  "data": {"values": [{}]},
                  "mark": {"type": "text", "text": "2", "font": "Liberation Sans", "fontSize": 19, "fontWeight": "bold", "color": "#000000", "align": "left", "baseline": "middle"},
                  "encoding": {"x": {"datum": 21.4, "type": "quantitative", "title": "2 Θ (degree)"}, "y": {"datum": 55900, "type": "quantitative", "title": "Intensity (a.u)"}}
                },
                {
                  "data": {"values": [{}]},
                  "mark": {"type": "text", "text": "(b2)", "font": "Liberation Sans", "fontSize": 23, "fontWeight": "bold", "color": "#000000", "align": "left", "baseline": "middle"},
                  "encoding": {"x": {"datum": 69.2, "type": "quantitative", "title": "2 Θ (degree)"}, "y": {"datum": 9100, "type": "quantitative", "title": "Intensity (a.u)"}}
                }
              ]
            },
            {
              "mark": {"type": "line", "strokeWidth": 1.5, "clip": true},
              "encoding": {
                "x": {"field": "t", "type": "quantitative", "axis": {"orient": "top", "values": [5,10,15,20,25,30,35,40,45,50,55,60,65,70,75,80], "labels": false, "domain": false, "title": null, "tickSize": {"condition": {"test": "datum.value % 10 === 0", "value": -6}, "value": -3}, "tickColor": "#000000", "tickWidth": 1.2, "minExtent": 9, "maxExtent": 9}},
                "y": {"field": "d", "type": "quantitative", "axis": {"orient": "right", "values": [-20000,-10000,0,10000,20000,30000,40000,50000,60000,70000], "labels": false, "domain": false, "title": null, "tickSize": {"condition": {"test": "datum.value % 20000 === 0", "value": -6}, "value": -3}, "tickColor": "#000000", "tickWidth": 1.2, "minExtent": 0}},
                "color": {"datum": "obs.-calc."}
              }
            }
          ],
          "resolve": {"axis": {"x": "independent", "y": "independent"}}
        }
      ],
      "spacing": 16,
      "resolve": {"scale": {"color": "independent"}}
    }
  ],
  "resolve": {"scale": {"color": "independent"}}
}
